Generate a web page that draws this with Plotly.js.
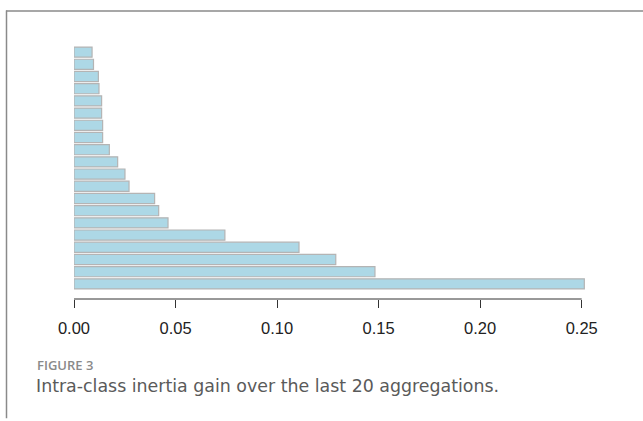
<!DOCTYPE html>
<html>
<head>
<meta charset="utf-8">
<script src="https://cdn.plot.ly/plotly-3.0.1.min.js"></script>
<style>html,body{margin:0;padding:0;background:#fff;}#chart{width:643px;height:421px;}</style>
</head>
<body>
<div id="chart"></div>
<script>
// Aggregation steps (1 = last aggregation, bottom bar) and their inertia gains
var steps = [1,2,3,4,5,6,7,8,9,10,11,12,13,14,15,16,17,18,19,20];
var gains = [0.2513, 0.1482, 0.1289, 0.1108, 0.0743, 0.0463, 0.0417, 0.0397, 0.0271, 0.0251,
             0.0215, 0.0174, 0.0141, 0.0141, 0.0136, 0.0136, 0.0123, 0.0120, 0.0096, 0.0089];
var tickVals = [0, 0.05, 0.10, 0.15, 0.20, 0.25];
var tickText = ["0.00", "0.05", "0.10", "0.15", "0.20", "0.25"];
var figLabel = "FIGURE 3";
var caption = "Intra-class inertia gain over the last 20 aggregations.";

var L = 74, R = 41, T = 46.4, B = 122;
var W = 643, H = 421;
var pw = W - L - R, ph = H - T - B;
function px2x(p){ return (p - L) / pw; }
function px2y(p){ return (H - B - p) / ph; }

var trace = {
  type: 'bar', orientation: 'h',
  x: gains, y: steps,
  marker: {color: '#add8e6', line: {color: '#b4b4b4', width: 1.2}},
  hoverinfo: 'none'
};

var layout = {
  width: W, height: H,
  margin: {l: L, r: R, t: T, b: B, pad: 0},
  paper_bgcolor: '#fff', plot_bgcolor: '#fff',
  showlegend: false,
  bargap: 0.17,
  xaxis: {
    range: [0, 0.26], showgrid: false, zeroline: false, showline: false,
    tickvals: tickVals, ticktext: tickText,
    ticks: 'outside', ticklen: 8, tickwidth: 1, tickcolor: '#333',
    ticklabelstandoff: 6,
    tickfont: {family: 'Liberation Sans, Arial, sans-serif', size: 16.5, color: '#222'}
  },
  yaxis: {
    range: [-0.24, 20.5], showgrid: false, zeroline: false, showline: false,
    showticklabels: false, ticks: ''
  },
  shapes: [
    {type: 'line', xref: 'x', yref: 'paper', x0: tickVals[0], x1: tickVals[tickVals.length-1], y0: 0, y1: 0,
     line: {color: '#333', width: 1}},
    {type: 'line', xref: 'paper', yref: 'paper', x0: px2x(6), x1: px2x(643), y0: px2y(11.5), y1: px2y(11.5),
     line: {color: '#8a8a8a', width: 1.5}},
    {type: 'line', xref: 'paper', yref: 'paper', x0: px2x(6.5), x1: px2x(6.5), y0: px2y(11), y1: px2y(418),
     line: {color: '#8a8a8a', width: 1.5}}
  ],
  annotations: [
    {xref: 'paper', yref: 'paper', x: px2x(35), y: px2y(365), xanchor: 'left', yanchor: 'middle',
     text: figLabel, showarrow: false,
     font: {family: 'Open Sans, sans-serif', size: 13, color: '#8a8a8a', weight: 600}},
    {xref: 'paper', yref: 'paper', x: px2x(34), y: px2y(386), xanchor: 'left', yanchor: 'middle',
     text: caption, showarrow: false,
     font: {family: 'DejaVu Sans, sans-serif', size: 17.4, color: '#5a5a5a'}}
  ]
};

Plotly.newPlot('chart', [trace], layout, {displayModeBar: false, staticPlot: true});
</script>
</body>
</html>
